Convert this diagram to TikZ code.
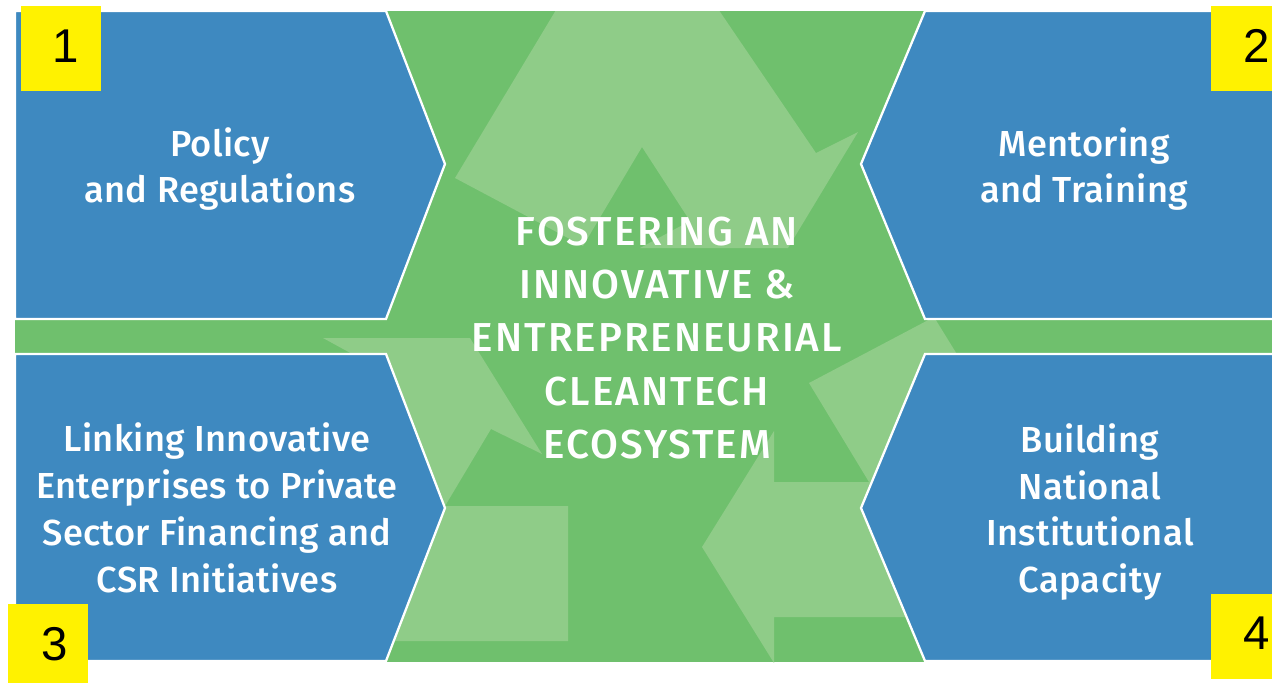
\documentclass[tikz,border=0pt]{standalone}
\usepackage{fontspec}
\setmainfont{Fira Sans}[BoldFont={Fira Sans Medium}]
\newfontfamily\numfont{Liberation Sans}

\definecolor{panelblue}{RGB}{62,137,192}
\definecolor{ecogreen}{RGB}{111,192,109}
\definecolor{leafgreen}{RGB}{143,204,136}

\begin{document}
\begin{tikzpicture}[x=0.02cm, y=-0.02cm,
        panel/.style={fill=panelblue, draw=white, line width=1.3pt, line join=miter},
        leaf/.style={fill=leafgreen},
        paneltext/.style={text=white, align=center,
            font=\fontsize{20.6}{26.7}\selectfont\bfseries\addfontfeatures{LetterSpace=1}},
        coretext/.style={text=white, align=center,
            font=\fontsize{23}{30.4}\selectfont\bfseries\addfontfeatures{LetterSpace=5}},
        numtext/.style={text=black, font=\numfont\fontsize{27}{27}\selectfont}]
        \useasboundingbox (0,0) rectangle (1272,683);

        % Draw the green background
        \fill[ecogreen] (15,11) rectangle (1272,662);

        % Draw the recycling arrows behind everything
        \begin{scope}
            \clip (15,11) rectangle (1272,662);
            \fill[leaf] (455,178) -- (562,0) -- (712,0) -- (816,153) -- (858,132) -- (788,248)
                -- (640,248) -- (690,221) -- (642,147) -- (583,246) -- cycle;
            \fill[leaf] (470,338) -- (323,338) -- (365,361) -- (198,641) -- (568,641)
                -- (568,506) -- (445,506) -- (491,429) -- (542,454) -- cycle;
            \fill[leaf] (702,547) -- (774,431) -- (774,482) -- (869,482) -- (809,383)
                -- (934,317) -- (1119,617) -- (774,617) -- (774,663) -- cycle;
        \end{scope}

        % Draw the four blue panels
        \filldraw[panel] (15,11) -- (386,11) -- (445,164) -- (386,319) -- (15,319) -- cycle;
        \filldraw[panel] (1280,11) -- (925,11) -- (861,164) -- (925,319) -- (1280,319) -- cycle;
        \filldraw[panel] (15,354) -- (386,354) -- (445,508) -- (386,661) -- (15,661) -- cycle;
        \filldraw[panel] (1280,354) -- (925,354) -- (861,508) -- (925,661) -- (1280,661) -- cycle;

        % Panel labels
        \node[paneltext] (policy) at (220,169) {Policy\\and Regulations};
        \node[paneltext] (mentoring) at (1084,169) {Mentoring\\and Training};
        \node[paneltext] (linking) at (217,508) {Linking Innovative\\Enterprises to Private\\Sector Financing and\\CSR Initiatives};
        \node[paneltext] (building) at (1090,512) {Building\\National\\Institutional\\Capacity};

        % Centre label
        \node[coretext] (core) at (657,338) {FOSTERING AN\\INNOVATIVE \&\\ENTREPRENEURIAL\\CLEANTECH\\ECOSYSTEM};

        % Number tags
        \fill[yellow] (21,6) rectangle (101,91);
        \fill[yellow] (1211,6) rectangle (1291,91);
        \fill[yellow] (8,604) rectangle (88,690);
        \fill[yellow] (1211,594) rectangle (1291,679);
        \node[numtext] (n1) at (66,46) {1};
        \node[numtext] (n2) at (1257,46) {2};
        \node[numtext] (n3) at (55,644) {3};
        \node[numtext] (n4) at (1257,633) {4};
\end{tikzpicture}
\end{document}
